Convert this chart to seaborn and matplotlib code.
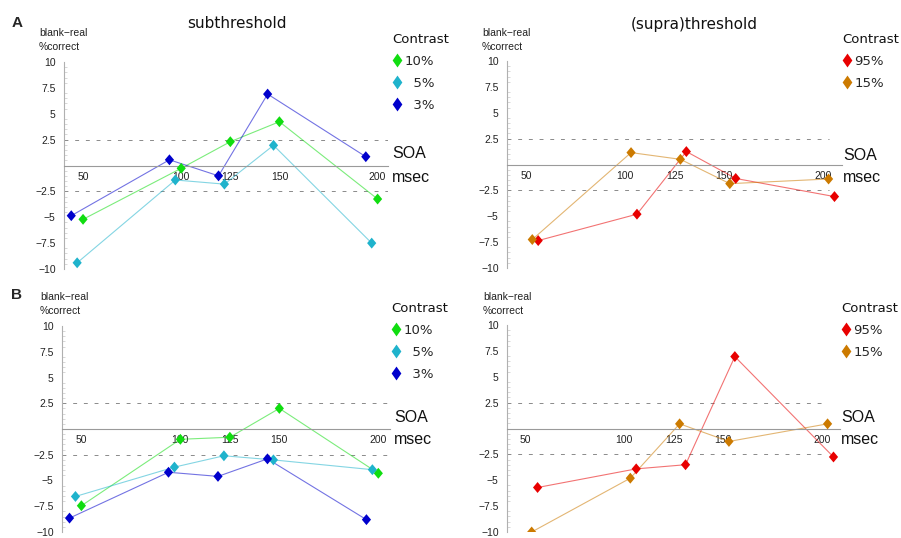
import numpy as np
import pandas as pd
import matplotlib
matplotlib.use("Agg")
import matplotlib.pyplot as plt
from matplotlib.path import Path
from matplotlib.lines import Line2D
from matplotlib.ticker import MultipleLocator
import seaborn as sns

# ---- data: blank-real difference in % correct per SOA (msec) ----
soa = [50, 100, 125, 150, 200]
sub_levels = ["10%", "5%", "3%"]
supra_levels = ["95%", "15%"]

# row A, subthreshold contrasts
a_sub_10 = [-5.2, -0.27, 2.3, 4.23, -3.24]
a_sub_5 = [-9.4, -1.4, -1.8, 1.95, -7.5]
a_sub_3 = [-4.85, 0.55, -1.0, 6.9, 0.85]
# row A, (supra)threshold contrasts
a_sup_95 = [-7.35, -4.8, 1.25, -1.35, -3.1]
a_sup_15 = [-7.25, 1.15, 0.5, -1.85, -1.4]
# row B, subthreshold contrasts
b_sub_10 = [-7.45, -1.0, -0.8, 2.0, -4.3]
b_sub_5 = [-6.55, -3.7, -2.6, -3.0, -3.95]
b_sub_3 = [-8.65, -4.2, -4.6, -2.9, -8.8]
# row B, (supra)threshold contrasts
b_sup_95 = [-5.7, -3.9, -3.5, 6.95, -2.75]
b_sup_15 = [-10.0, -4.8, 0.45, -1.25, 0.45]

ytick_vals = [-10, -7.5, -5, -2.5, 2.5, 5, 7.5, 10]
ytick_labels = ["\u221210", "\u22127.5", "\u22125", "\u22122.5", "2.5", "5", "7.5", "10"]

# ---- styling ----
colors = {"10%": "#10dd10", "5%": "#1fb3cc", "3%": "#0000cc",
          "95%": "#e80000", "15%": "#cc7a00"}
# horizontal dodge so that markers at the same SOA do not overlap
dodge = {"10%": 0, "5%": -3, "3%": -6, "95%": 6, "15%": 3}
legend_labels = {"10%": "10%", "5%": "\u20075%", "3%": "\u20073%",
                 "95%": "95%", "15%": "15%"}


def diamond(ratio):
    return Path([(0, 1), (ratio, 0), (0, -1), (-ratio, 0), (0, 1)],
                [Path.MOVETO, Path.LINETO, Path.LINETO, Path.LINETO, Path.CLOSEPOLY])


DATA_DIAMOND = diamond(0.84)
LEGEND_DIAMOND = diamond(0.7)

sns.set_style("white")
plt.rcParams["font.family"] = ["DejaVu Sans"]
TICKFONT = "Liberation Sans"

W, H = 901, 538
fig = plt.figure(figsize=(W / 100, H / 100), dpi=100)


def px_axes(left, top, right, bottom):
    return fig.add_axes([left / W, 1 - bottom / H, (right - left) / W, (bottom - top) / H])


def ftext(x, y, s, **kw):
    fig.text(x / W, 1 - y / H, s, **kw)


def panel(ax, levels, series, xlim, dash_end, legend_xy):
    frames = []
    for lev, vals in zip(levels, series):
        frames.append(pd.DataFrame({"soa": np.array(soa, float) + dodge[lev],
                                    "diff": vals, "contrast": lev}))
    df = pd.concat(frames, ignore_index=True)
    pal = {lev: colors[lev] for lev in levels}
    sns.lineplot(data=df, x="soa", y="diff", hue="contrast", hue_order=levels,
                 palette=pal, estimator=None, lw=0.8, alpha=0.55, legend=False, ax=ax)
    sns.scatterplot(data=df, x="soa", y="diff", hue="contrast", hue_order=levels,
                    palette=pal, marker=DATA_DIAMOND, s=62, linewidth=0, legend=False,
                    ax=ax, zorder=4)

    ax.set_xlim(*xlim)
    ax.set_ylim(-10, 10)
    ax.set_xlabel("")
    ax.set_ylabel("")
    for side in ("top", "right"):
        ax.spines[side].set_visible(False)
    ax.spines["bottom"].set_position(("data", 0))
    ax.spines["bottom"].set_color("#9a9a9a")
    ax.spines["bottom"].set_linewidth(0.8)
    ax.spines["left"].set_color("#b0b0b0")
    ax.spines["left"].set_linewidth(0.8)

    ax.set_xticks(soa)
    ax.set_xticklabels([str(s) for s in soa], fontfamily=TICKFONT, fontsize=7.5, color="#222222")
    ax.tick_params(axis="x", length=0, pad=4.5)
    ax.set_yticks(ytick_vals)
    ax.set_yticklabels(ytick_labels, fontfamily=TICKFONT, fontsize=7.5, color="#222222")
    ax.yaxis.set_minor_locator(MultipleLocator(0.5))
    ax.tick_params(axis="y", which="major", direction="in", length=4, width=0.6,
                   color="#b0b0b0", pad=6)
    ax.tick_params(axis="y", which="minor", direction="in", length=2, width=0.5,
                   color="#c8c8c8", left=True)
    ax.patch.set_alpha(0)

    for yv in (2.5, -2.5):
        ax.axhline(yv, xmin=0, xmax=dash_end, color="#8a8a8a", lw=0.7,
                   dashes=(4, 7), zorder=1)

    handles = [Line2D([], [], ls="", marker=LEGEND_DIAMOND, markersize=10,
                      markerfacecolor=colors[lev], markeredgewidth=0)
               for lev in levels]
    leg = ax.legend(handles, [legend_labels[lev] for lev in levels], title="Contrast",
                    loc="upper left", bbox_to_anchor=(legend_xy[0] / W, 1 - legend_xy[1] / H),
                    bbox_transform=fig.transFigure, frameon=False, fontsize=9.5,
                    title_fontsize=9.5, handlelength=0.75, handletextpad=0.2,
                    labelspacing=0.68, borderpad=0, borderaxespad=0, alignment="left")
    leg.get_title().set_color("#111111")


# pixel frames of the four panels: left, top(+10), right, bottom(-10)
ax_a1 = px_axes(64, 62, 388, 269)
ax_a2 = px_axes(507, 61, 842, 268)
ax_b1 = px_axes(62, 326, 390, 532)
ax_b2 = px_axes(507, 325, 840, 532)

panel(ax_a1, sub_levels, [a_sub_10, a_sub_5, a_sub_3], (40.3, 205.3), 1.0, (392, 33))
panel(ax_a2, supra_levels, [a_sup_95, a_sup_15], (40.2, 209.8), 0.96, (842, 33))
panel(ax_b1, sub_levels, [b_sub_10, b_sub_5, b_sub_3], (40.2, 205.9), 1.0, (391, 302))
panel(ax_b2, supra_levels, [b_sup_95, b_sup_15], (40.5, 209.3), 0.96, (841, 302))

# titles and panel letters
ftext(237, 23, "subthreshold", fontsize=11, ha="center", va="center", color="#111111")
ftext(694, 24, "(supra)threshold", fontsize=11, ha="center", va="center", color="#111111")
ftext(17, 23, "A", fontsize=11, fontweight="bold", fontfamily=TICKFONT, ha="center", va="center")
ftext(17, 295, "B", fontsize=11, fontweight="bold", fontfamily=TICKFONT, ha="center", va="center")

# y-axis captions
for x, y in [(39, 33), (482, 33), (40, 297), (483, 297)]:
    ftext(x, y, "blank\u2212real", fontsize=7.5, fontfamily=TICKFONT, ha="left", va="center", color="#222222")
    ftext(x, y + 14.5, "%correct", fontsize=7.5, fontfamily=TICKFONT, ha="left", va="center", color="#222222")

# x-axis captions
for x, y1, y2 in [(392, 154, 177), (843, 155, 177), (394, 418, 439), (841, 418, 439)]:
    ftext(x, y1, "SOA", fontsize=11.5, fontfamily=TICKFONT, ha="left", va="center", color="#111111")
    ftext(x, y2, "msec", fontsize=11.5, fontfamily=TICKFONT, ha="left", va="center", color="#111111")

fig.savefig("out.png", dpi=100)
